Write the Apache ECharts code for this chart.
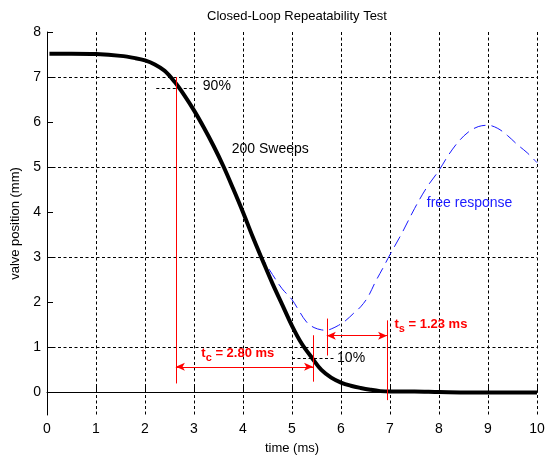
<!DOCTYPE html>
<html>
<head>
<meta charset="utf-8">
<script src="https://cdn.jsdelivr.net/npm/echarts@6/dist/echarts.min.js"></script>
<style>
  html, body { margin: 0; padding: 0; background: #fff; overflow: hidden; }
  #chart { width: 550px; height: 457px; }
</style>
</head>
<body>
<div id="chart"></div>
<script>
// Averaged closed-loop response (200 overlaid sweeps)
const sweepTime = [0.05, 0.5, 1.0, 1.5, 1.8, 2.0, 2.2, 2.4, 2.6, 2.8, 3.0, 3.2, 3.4, 3.6, 3.8, 4.0, 4.2, 4.4, 4.6, 4.8, 5.0, 5.2, 5.42, 5.6, 5.8, 6.0, 6.2, 6.4, 6.6, 6.8, 7.0, 7.5, 8.0, 9.0, 10.0];
const sweepPos  = [7.52, 7.52, 7.51, 7.47, 7.42, 7.37, 7.28, 7.14, 6.9, 6.6, 6.26, 5.88, 5.47, 5.02, 4.52, 4.0, 3.45, 2.93, 2.42, 1.95, 1.48, 1.08, 0.75, 0.5, 0.33, 0.22, 0.15, 0.1, 0.06, 0.03, 0.02, 0.02, 0.01, 0.0, 0.0];

// Open-loop (free) response of the valve
const freeTime = [4.2, 4.4, 4.6, 4.8, 5.0, 5.15, 5.3, 5.45, 5.6, 5.7, 5.8, 5.95, 6.1, 6.25, 6.4, 6.55, 6.7, 6.85, 7.0, 7.25, 7.5, 7.75, 8.0, 8.2, 8.4, 8.6, 8.8, 9.0, 9.2, 9.4, 9.6, 9.8, 10.0];
const freePos  = [3.45, 2.98, 2.62, 2.3, 2.06, 1.8, 1.56, 1.44, 1.39, 1.38, 1.41, 1.49, 1.6, 1.75, 1.9, 2.12, 2.45, 2.75, 3.06, 3.55, 4.08, 4.55, 4.93, 5.28, 5.57, 5.78, 5.9, 5.93, 5.86, 5.7, 5.5, 5.32, 5.1];

// Timing markers (ms) and threshold levels (mm)
const tcStart = 2.63;
const tcValue = 2.80;
const tcEnd = tcStart + tcValue;
const tsStart = 5.71;
const tsValue = 1.23;
const tsEnd = tsStart + tsValue;
const level90 = 6.75;
const level10 = 0.75;

// Axis ticks
const xTicks = [0, 1, 2, 3, 4, 5, 6, 7, 8, 9, 10];
const yTicks = [0, 1, 2, 3, 4, 5, 6, 7, 8];

const red = '#ff0000';
const blue = '#1a1aff';
const font = "'Liberation Sans', Arial, sans-serif";

const zip = (a, b) => a.map((v, i) => [v, b[i]]);

const chart = echarts.init(document.getElementById('chart'), null, { renderer: 'canvas', width: 550, height: 457 });

const gridDash = { color: '#000', width: 1, type: [3, 2.5] };
const subRich = {
  m: { fontFamily: font, fontSize: 13, fontWeight: 'bold', color: red },
  s: { fontFamily: font, fontSize: 11, fontWeight: 'bold', color: red, padding: [9, 0, 0, 0] }
};

const option = {
  animation: false,
  backgroundColor: '#fff',
  title: {
    text: 'Closed-Loop Repeatability Test',
    left: 292, top: 5,
    textAlign: 'center',
    textStyle: { fontFamily: font, fontSize: 13, fontWeight: 'normal', color: '#000' }
  },
  grid: { left: 47, right: 13, top: 32, bottom: 42, containLabel: false, outerBoundsMode: 'none' },
  xAxis: {
    type: 'value',
    min: xTicks[0], max: xTicks[xTicks.length - 1], interval: 1,
    name: 'time (ms)', nameLocation: 'middle', nameGap: 27,
    nameTextStyle: { fontFamily: font, fontSize: 13, color: '#000' },
    axisLine: { show: true, lineStyle: { color: '#000', width: 1 } },
    axisTick: { show: true, inside: true, length: 6, lineStyle: { color: '#000', width: 1 } },
    axisLabel: { fontFamily: font, fontSize: 14, color: '#000', margin: 7 },
    splitLine: { show: true, lineStyle: gridDash }
  },
  yAxis: {
    type: 'value',
    min: -0.5, max: yTicks[yTicks.length - 1], interval: 0.5,
    name: 'valve position (mm)', nameLocation: 'middle', nameGap: 20,
    nameTextStyle: { fontFamily: font, fontSize: 13, color: '#000' },
    axisLine: { show: true, lineStyle: { color: '#000', width: 1 } },
    axisTick: { show: true, inside: true, length: 6, customValues: yTicks, lineStyle: { color: '#000', width: 1 } },
    axisLabel: {
      fontFamily: font, fontSize: 14, color: '#000', margin: 6,
      formatter: v => (yTicks.indexOf(v) >= 0 ? String(v) : '')
    },
    // only the whole-millimetre lines are drawn
    splitLine: { show: true, lineStyle: Object.assign({}, gridDash, { color: ['rgba(0,0,0,0)', '#000'] }) }
  },
  series: [
    {
      name: 'free response',
      type: 'line',
      data: zip(freeTime, freePos),
      smooth: 0.35,
      showSymbol: false,
      lineStyle: { color: blue, width: 1, type: [12, 6] },
      z: 2
    },
    {
      name: '200 Sweeps',
      type: 'line',
      data: zip(sweepTime, sweepPos),
      smooth: 0.35,
      showSymbol: false,
      lineStyle: { color: '#000', width: 4 },
      z: 3
    },
    {
      name: 'markers',
      type: 'line',
      data: [],
      z: 4,
      markLine: {
        silent: true,
        animation: false,
        symbol: ['none', 'none'],
        label: { show: false },
        lineStyle: { color: red, width: 1, type: 'solid' },
        data: [
          [{ coord: [tcStart, 7.0] }, { coord: [tcStart, 0.2] }],
          [{ coord: [tcEnd, 1.27] }, { coord: [tcEnd, 0.24] }],
          [{ coord: [tsStart, 1.64] }, { coord: [tsStart, 0.82] }],
          [{ coord: [tsEnd, 1.6] }, { coord: [tsEnd, -0.17] }],
          [{ coord: [tcStart, 0.57], symbol: 'arrow', symbolSize: [6, 9] },
           { coord: [tcEnd, 0.57], symbol: 'arrow', symbolSize: [6, 9] }],
          [{ coord: [tsStart, 1.26], symbol: 'arrow', symbolSize: [6, 9] },
           { coord: [tsEnd, 1.26], symbol: 'arrow', symbolSize: [6, 9] }],
          [{ coord: [tcStart - 0.4, level90], lineStyle: { color: '#000', type: [3, 2.5] } },
           { coord: [tcStart + 0.4, level90] }],
          [{ coord: [tcEnd - 0.43, level10], lineStyle: { color: '#000', type: [3, 2.5] } },
           { coord: [tcEnd + 0.45, level10] }]
        ]
      },
      markPoint: {
        silent: true,
        animation: false,
        symbol: 'circle',
        symbolSize: 0,
        label: {
          show: true, position: 'right', distance: 0,
          fontFamily: font, fontSize: 14, color: '#000'
        },
        data: [
          { coord: [3.18, 6.8], label: { formatter: '90%' } },
          { coord: [3.77, 5.4], label: { formatter: '200 Sweeps' } },
          { coord: [5.92, 0.77], label: { formatter: '10%' } },
          { coord: [7.75, 4.2], label: { formatter: 'free response', color: blue } },
          { coord: [3.15, 0.87], label: { formatter: '{m|t}{s|c}{m| = ' + tcValue.toFixed(2) + ' ms}', rich: subRich } },
          { coord: [7.09, 1.5], label: { formatter: '{m|t}{s|s}{m| = ' + tsValue.toFixed(2) + ' ms}', rich: subRich } }
        ]
      }
    }
  ]
};

chart.setOption(option);
</script>
</body>
</html>
